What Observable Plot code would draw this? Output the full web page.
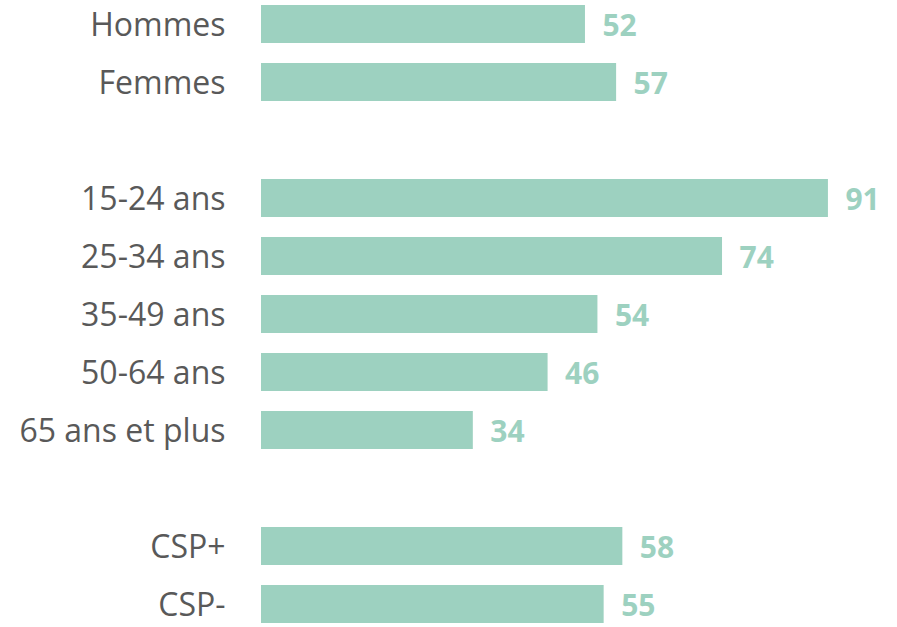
<!DOCTYPE html>
<html><head><meta charset="utf-8">
<script src="https://cdn.jsdelivr.net/npm/d3@7"></script>
<script src="https://cdn.jsdelivr.net/npm/@observablehq/plot@0.6"></script>
<style>body{margin:0;background:#fff;} svg{display:block;}</style>
</head><body><div id="chart"></div>
<script>
const categories = ["Hommes","Femmes","15-24 ans","25-34 ans","35-49 ans","50-64 ans","65 ans et plus","CSP+","CSP-"];
const values = [52,57,91,74,54,46,34,58,55];
const yDomain = ["Hommes","Femmes"," ","15-24 ans","25-34 ans","35-49 ans","50-64 ans","65 ans et plus","  ","CSP+","CSP-"];
const data = categories.map((c,i)=>({cat:c, value:values[i]}));
const barColor = "#9dd1c0";
const chart = Plot.plot({
  width: 897, height: 627,
  marginLeft: 261, marginRight: 13, marginTop: 5, marginBottom: 4,
  style: {fontFamily: "'Open Sans', sans-serif", background: "#fff"},
  x: {domain: [0,100], axis: null},
  y: {domain: yDomain, paddingInner: 0.345, paddingOuter: 0, label: null},
  marks: [
    Plot.barX(data, {x: "value", y: "cat", fill: barColor}),
    Plot.axisY({tickSize: 0, tickPadding: 36, fontSize: 32, color: "#595959", label: null, dy: 1}),
    Plot.text(data, {x: "value", y: "cat", text: d => String(d.value), textAnchor: "start", dx: 17, dy: 2, fill: barColor, fontWeight: "bold", fontSize: 30})
  ]
});
document.getElementById("chart").appendChild(chart);
</script>
</body></html>
